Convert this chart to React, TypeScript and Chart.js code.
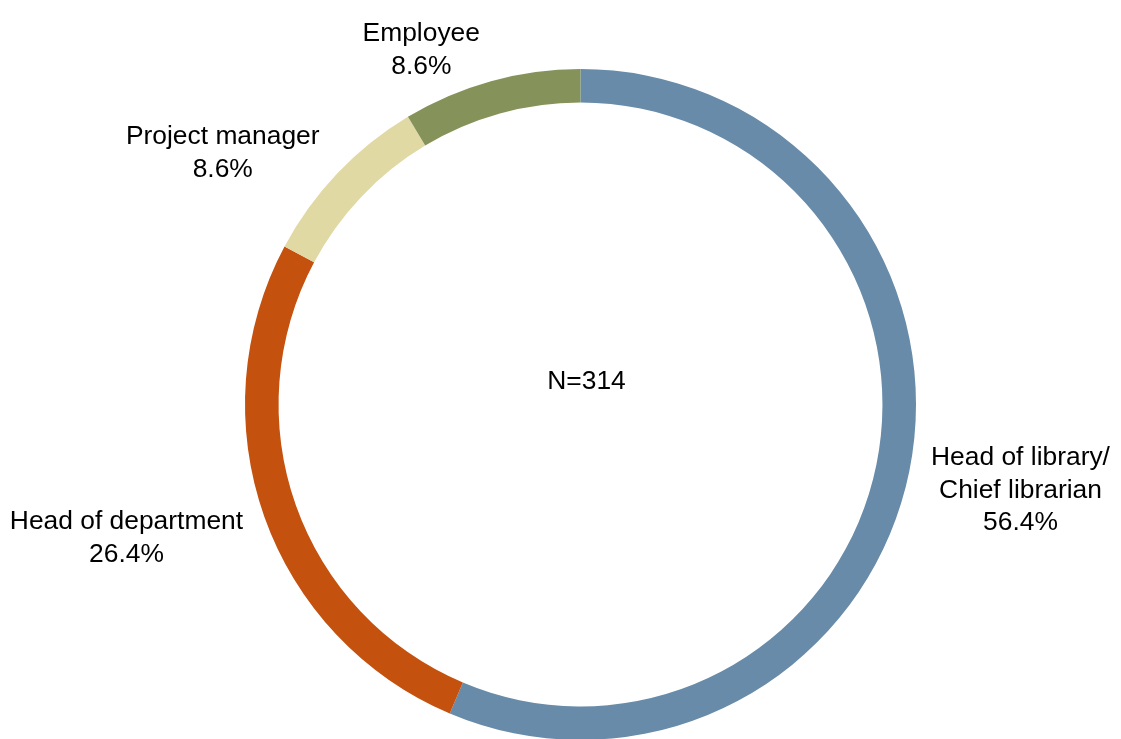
import React, { useEffect, useRef } from 'react';
import { Chart, registerables } from 'chart.js';

Chart.register(...registerables);

// ---- data ----
const categories: string[][] = [
  ['Head of library/', 'Chief librarian'],
  ['Head of department'],
  ['Project manager'],
  ['Employee'],
];
const counts: number[] = [177, 83, 27, 27];
const colors: string[] = ['#678BA8', '#C4510E', '#E0D9A4', '#85935A'];
const centerLabel = 'N=314';

const FONT_SIZE = 26.4;
const FONT = `${FONT_SIZE}px "Liberation Sans", Arial, Helvetica, sans-serif`;
const LINE_H = 32.5;
const CAP = FONT_SIZE * 0.716;

const labelPlugin = {
  id: 'outerLabels',
  afterDraw(chart: any) {
    const ctx: CanvasRenderingContext2D = chart.ctx;
    const meta = chart.getDatasetMeta(0);
    const total = counts.reduce((a, b) => a + b, 0);
    ctx.save();
    ctx.font = FONT;
    ctx.fillStyle = '#000000';
    ctx.textAlign = 'center';
    ctx.textBaseline = 'alphabetic';
    let cxc = 0;
    let cyc = 0;
    meta.data.forEach((arc: any, i: number) => {
      const p = arc.getProps(['x', 'y', 'startAngle', 'endAngle', 'outerRadius'], true);
      cxc = p.x;
      cyc = p.y;
      const mid = (p.startAngle + p.endAngle) / 2;
      const dx = Math.cos(mid);
      const dy = Math.sin(mid);
      const lines = [...categories[i], ((counts[i] / total) * 100).toFixed(1) + '%'];
      const w = Math.max(...lines.map((l) => ctx.measureText(l).width));
      const h = CAP + (lines.length - 1) * LINE_H;
      const qx = p.x + (p.outerRadius + 15) * dx;
      const qy = p.y + (p.outerRadius + 15) * dy;
      const cx = qx + Math.sign(dx) * (w / 2 + 7);
      const cy = qy + (dy * h) / 2 + 6;
      const base = cy - h / 2 + CAP;
      lines.forEach((l, k) => ctx.fillText(l, cx, base + k * LINE_H));
    });
    ctx.fillText(centerLabel, cxc + 6, cyc - 16);
    ctx.restore();
  },
};

export default function App() {
  const ref = useRef<HTMLCanvasElement | null>(null);
  useEffect(() => {
    if (!ref.current) return;
    const chart = new Chart(ref.current, {
      type: 'doughnut',
      data: {
        labels: categories.map((c) => c.join(' ')),
        datasets: [
          {
            data: counts,
            backgroundColor: colors,
            borderWidth: 0,
            hoverOffset: 0,
          },
        ],
      },
      options: {
        responsive: false,
        animation: false,
        devicePixelRatio: 1,
        cutout: '90%',
        layout: { padding: { top: 69, bottom: 40, left: 40, right: 0 } },
        plugins: {
          legend: { display: false },
          tooltip: { enabled: false },
          title: { display: false },
        },
      },
      plugins: [labelPlugin],
    });
    return () => chart.destroy();
  }, []);
  return (
    <div
      style={{
        position: 'fixed',
        left: 0,
        top: 0,
        width: 1121,
        height: 739,
        overflow: 'hidden',
        background: '#ffffff',
      }}
    >
      <canvas ref={ref} width={1121} height={780} style={{ display: 'block' }} />
    </div>
  );
}
